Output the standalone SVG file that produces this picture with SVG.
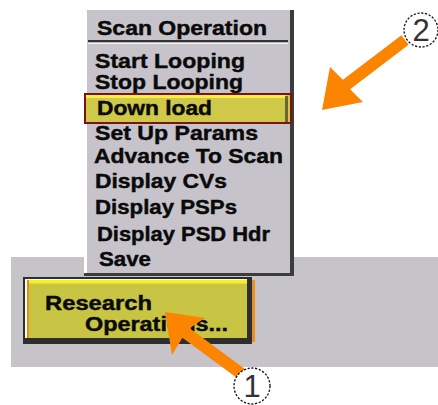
<svg xmlns="http://www.w3.org/2000/svg" width="438" height="405" viewBox="0 0 438 405">
<style>
.mi{font-family:"Liberation Sans",Arial,sans-serif;font-weight:bold;font-size:21px;fill:#0a0a0a;stroke:#0a0a0a;stroke-width:0.45}
.num{font-family:"Liberation Sans",Arial,sans-serif;font-size:31px;fill:#333;text-anchor:middle}
.arrow{fill:#fb8500}
.badge{fill:#fff;stroke:#111;stroke-width:1.3;stroke-dasharray:2.2 1.6}
</style>
<rect x="0" y="0" width="438" height="405" fill="#ffffff"/>
<g id="panel">
<rect x="11" y="257" width="427" height="110" fill="#c6c4c8"/>
</g>
<g id="menu">
<rect x="84" y="10" width="210" height="266" fill="#3c3c3c"/>
<rect x="84" y="8" width="206" height="265" fill="#ffffff"/>
<rect x="87" y="10" width="203" height="263" fill="#c6c4ca"/>
<rect x="88" y="40" width="200" height="2.5" fill="#333"/>
<rect x="88" y="42.5" width="200" height="1.5" fill="#f4f4f4"/>
<text class="mi" x="97" y="35" textLength="170" lengthAdjust="spacingAndGlyphs">Scan Operation</text>
<text class="mi" x="95" y="68" textLength="150" lengthAdjust="spacingAndGlyphs">Start Looping</text>
<text class="mi" x="95" y="89" textLength="148" lengthAdjust="spacingAndGlyphs">Stop Looping</text>
<g id="download">
<rect x="85" y="94" width="206" height="29" fill="#d0c848" stroke="#7a1414" stroke-width="2"/>
<rect x="86" y="95" width="200" height="3" fill="#f6f044"/>
<rect x="285" y="96" width="3" height="26" fill="#6a6630"/>
<text class="mi" x="97" y="115" textLength="115" lengthAdjust="spacingAndGlyphs">Down load</text>
</g>
<text class="mi" x="95" y="140" textLength="163" lengthAdjust="spacingAndGlyphs">Set Up Params</text>
<text class="mi" x="94" y="163" textLength="189" lengthAdjust="spacingAndGlyphs">Advance To Scan</text>
<text class="mi" x="95" y="188" textLength="132" lengthAdjust="spacingAndGlyphs">Display CVs</text>
<text class="mi" x="95" y="214" textLength="142" lengthAdjust="spacingAndGlyphs">Display PSPs</text>
<text class="mi" x="97" y="241" textLength="173" lengthAdjust="spacingAndGlyphs">Display PSD Hdr</text>
<text class="mi" x="99" y="266" textLength="52" lengthAdjust="spacingAndGlyphs">Save</text>
</g>
<g id="button">
<rect x="252" y="280" width="3" height="62" fill="#e89020"/>
<rect x="23" y="277" width="229" height="67" fill="#2e2e2e"/>
<rect x="25" y="279" width="222" height="59" fill="#ffffff"/>
<rect x="27" y="280" width="220" height="58" fill="#f08a10"/>
<rect x="29" y="280" width="218" height="58" fill="#c8c444"/>
<rect x="29" y="280" width="218" height="3.5" fill="#f8f020"/>
<text class="mi" x="45" y="310" textLength="107" lengthAdjust="spacingAndGlyphs">Research</text>
<text class="mi" x="85" y="331" textLength="143" lengthAdjust="spacingAndGlyphs">Operations...</text>
</g>
<g id="connectors">
<polygon class="arrow" points="165,312 205,318 189.6,328.2 246.6,370.2 239.4,379.8 182.4,337.8 172,355"/>
<polygon class="arrow" points="322,110 330,67 342.9,79.7 401.4,35.2 408.6,44.8 350.1,89.3 363,102"/>
</g>
<g id="label1">
<circle class="badge" cx="252" cy="386" r="18"/>
<text class="num" x="252" y="397">1</text>
</g>
<g id="label2">
<circle class="badge" cx="421" cy="30" r="17"/>
<text class="num" x="421" y="41">2</text>
</g>
</svg>
